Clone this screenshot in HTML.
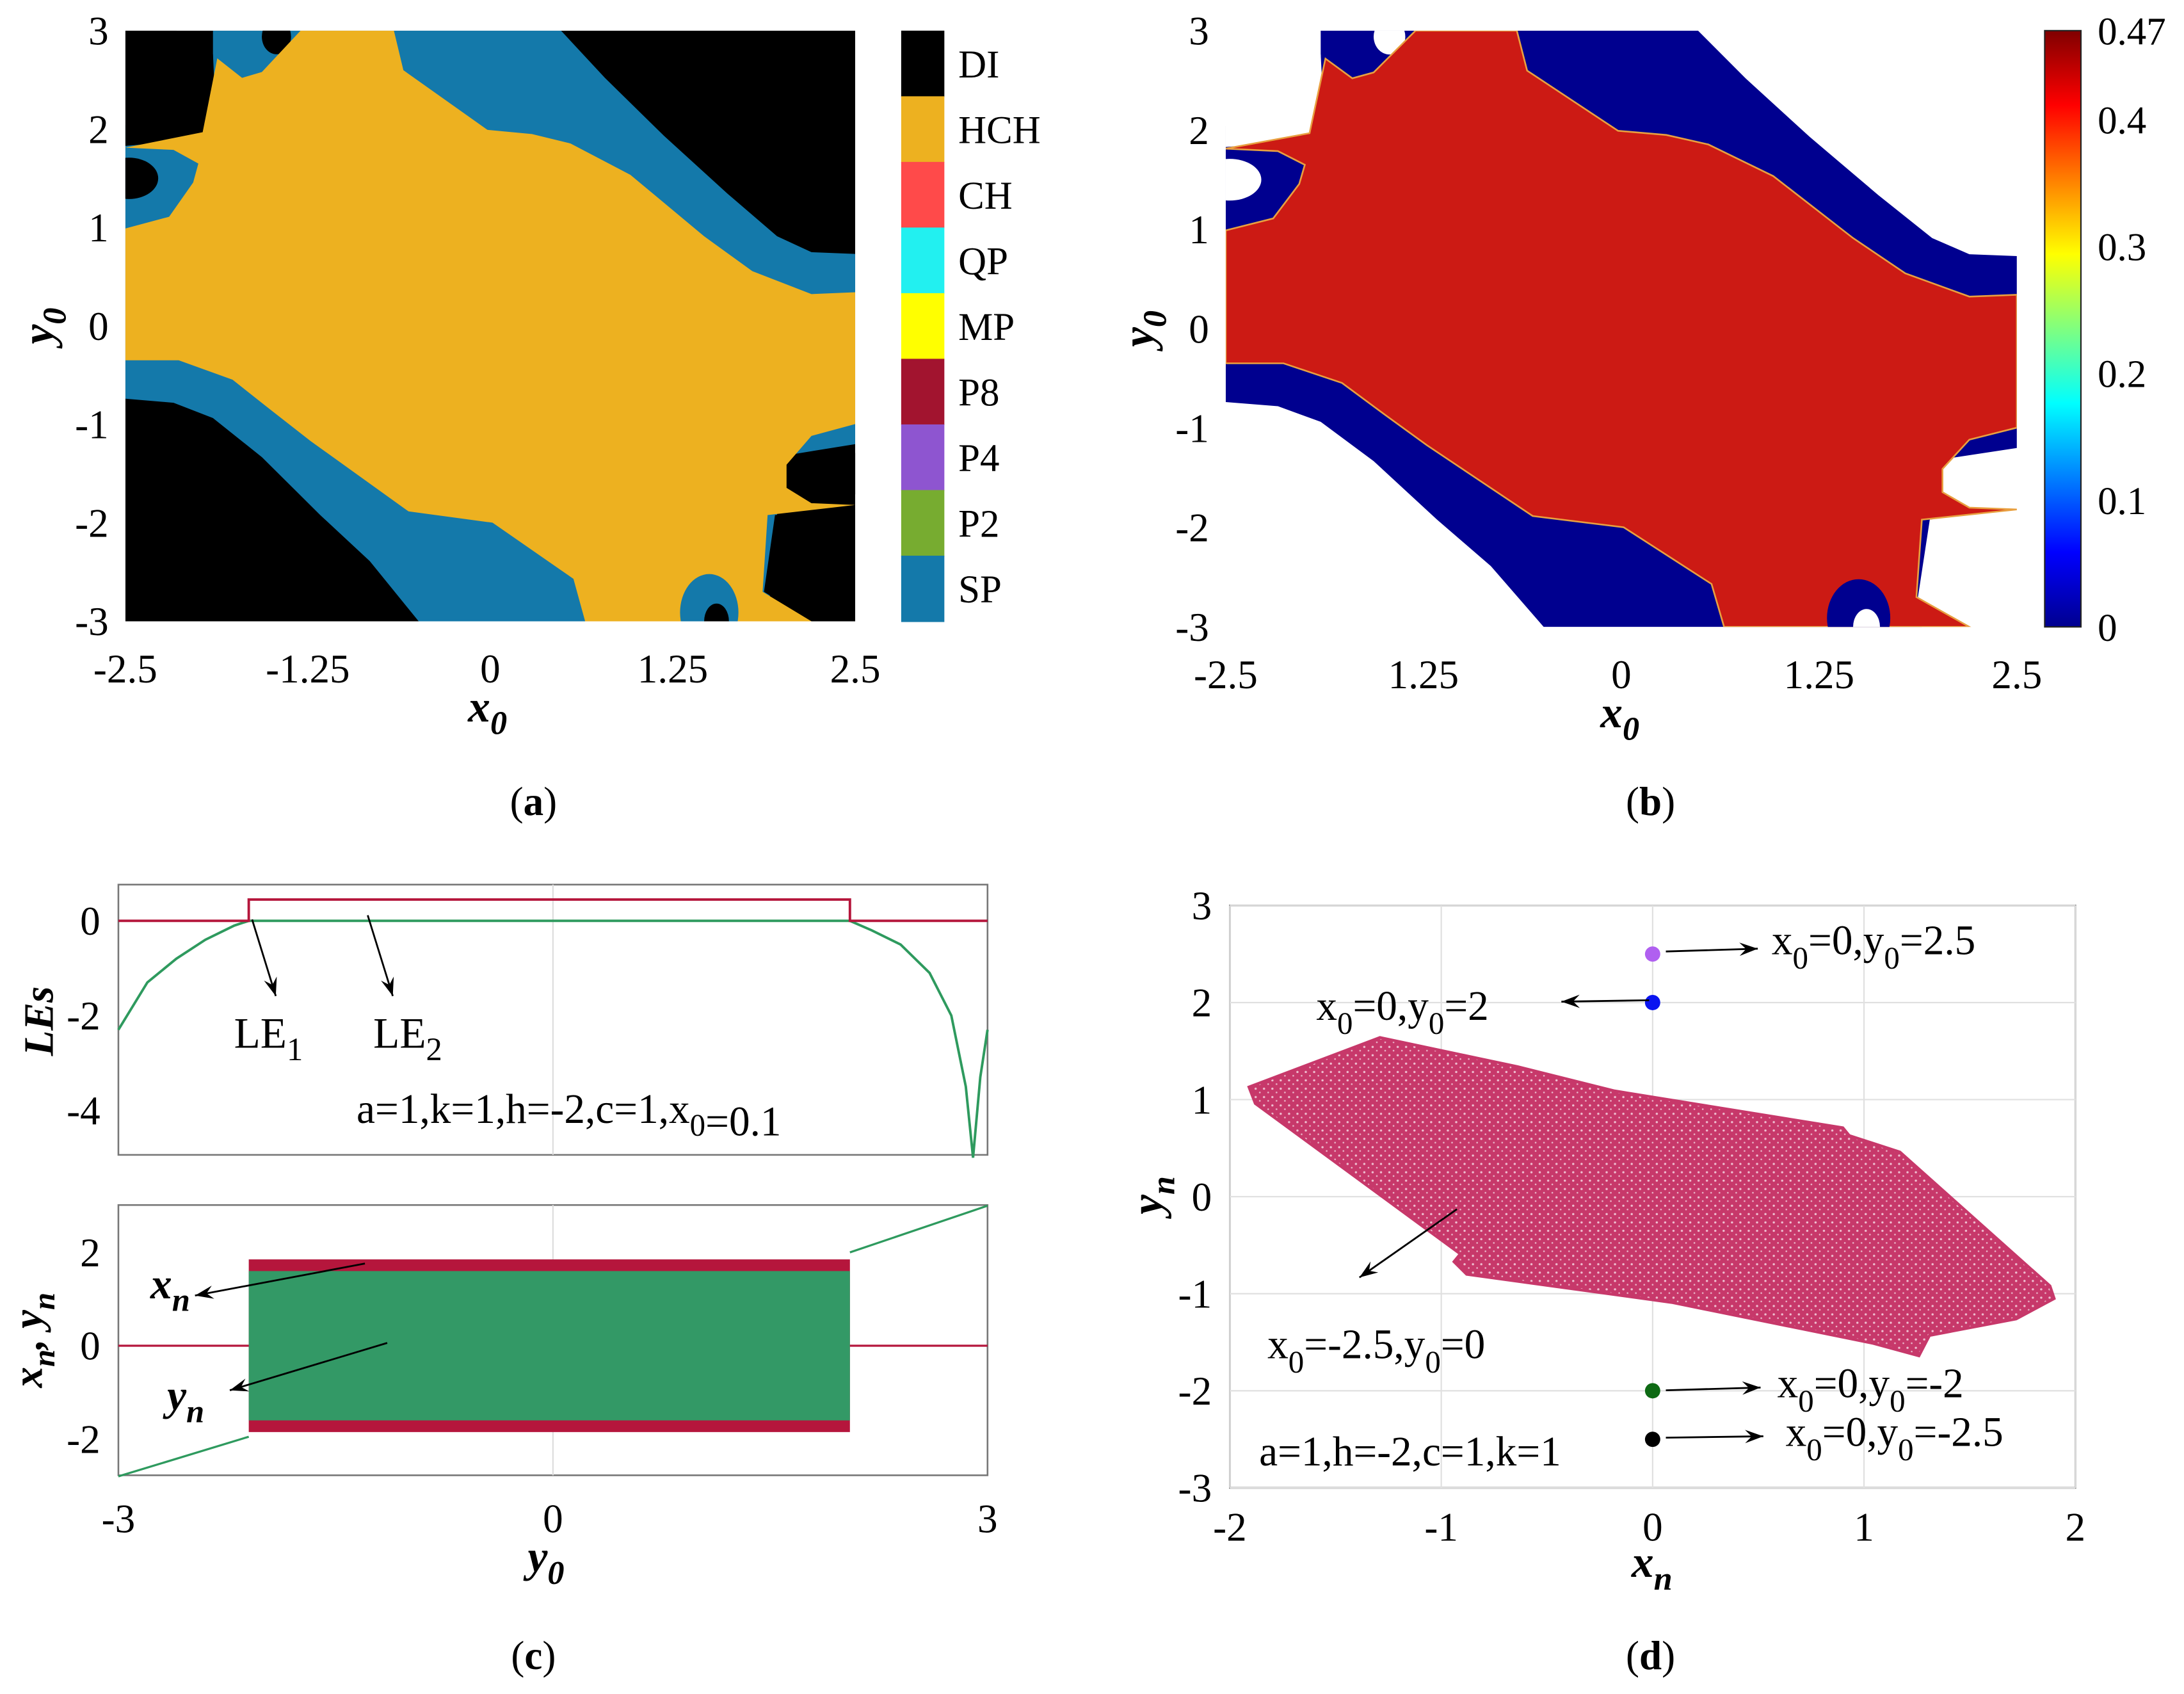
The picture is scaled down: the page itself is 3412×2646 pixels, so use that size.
<!DOCTYPE html>
<html><head><meta charset="utf-8">
<style>
html,body{margin:0;padding:0;background:#fff;}
svg{display:block;font-family:"Liberation Serif",serif;}
</style></head>
<body>
<svg id="fig" xmlns="http://www.w3.org/2000/svg" width="3412" height="2646" viewBox="0 0 1568 1216" preserveAspectRatio="none">
<defs>
<linearGradient id="jet" x1="0" y1="1" x2="0" y2="0">
<stop offset="0" stop-color="#00008f"/><stop offset="0.125" stop-color="#0000ff"/><stop offset="0.375" stop-color="#00ffff"/><stop offset="0.625" stop-color="#ffff00"/><stop offset="0.875" stop-color="#ff0000"/><stop offset="1" stop-color="#800000"/>
</linearGradient>
<pattern id="dots" width="6" height="6" patternUnits="userSpaceOnUse">
<rect width="6" height="6" fill="#c7386a"/><circle cx="1.5" cy="1.5" r="0.8" fill="#eebfd0"/><circle cx="4.5" cy="4.2" r="0.6" fill="#eab8ca"/>
</pattern>
</defs>
<g id="root"></g>
</svg>
<script>
// ---------- data ----------
const legendLabels=["DI","HCH","CH","QP","MP","P8","P4","P2","SP"];
const legendColors=["#000000","#edb120","#ff4a4a","#22f0f0","#ffff00","#a2142f","#8e55d0","#77ac30","#1479aa"];
const xTicksAB=[-2.5,-1.25,0,1.25,2.5];
const xTickLabelsB=["-2.5","1.25","0","1.25","2.5"];
const yTicksAB=[3,2,1,0,-1,-2,-3];
const cbTicks=[0,0.1,0.2,0.3,0.4,0.47];
const les_y0=[-3,-2.8,-2.6,-2.4,-2.2,-2.1,2.05,2.2,2.4,2.6,2.75,2.85,2.9,2.95,3];
const le2_vals=[-2.3,-1.3,-0.8,-0.4,-0.1,0,0,-0.2,-0.5,-1.1,-2.0,-3.5,-5,-3.3,-2.3];
const le1_y0=[-3,-2.1,-2.1,2.05,2.05,3];
const le1_vals=[0,0,0.45,0.45,0,0];
const lesTicks=[0,-2,-4];
const xnTicks=[2,0,-2];
const c_xTicks=[-3,0,3];
const chaosStart=-2.1, chaosEnd=2.05, chaosAmp=1.85;
const attrX=[-1.91,-1.29,-0.64,-0.18,0.9,0.93,1.17,1.88,1.9,1.72,1.31,1.26,1.04,0.09,-0.88,-0.94,-0.91,-1.88];
const attrY=[1.13,1.64,1.34,1.09,0.71,0.63,0.46,-0.92,-1.05,-1.26,-1.43,-1.64,-1.51,-1.09,-0.8,-0.67,-0.59,0.96];
const icY=[2.5,2,-2,-2.5];
const icColors=["#b060f0","#0a14f0","#0e6a14","#000000"];
const dTicksX=[-2,-1,0,1,2];
const dTicksY=[3,2,1,0,-1,-2,-3];
// basin shapes (normalized panel coords)
const blueRegion=[[0.12,0],[0.597,0],[0.657,0.08],[0.738,0.178],[0.825,0.276],[0.893,0.348],[0.94,0.375],[1,0.378],[1,0.70],[0.9,0.72],[0.88,1],[0.402,1],[0.335,0.898],[0.267,0.82],[0.187,0.722],[0.12,0.656],[0.066,0.63],[0,0.623],[0,0.16],[0.12,0.16]];
const yellowRegion=[[0.24,0],[0.368,0],[0.381,0.067],[0.496,0.168],[0.557,0.175],[0.61,0.191],[0.692,0.244],[0.793,0.348],[0.859,0.407],[0.94,0.446],[1,0.443],[1,0.666],[0.94,0.686],[0.906,0.735],[0.906,0.774],[0.94,0.8],[1,0.803],[0.88,0.82],[0.873,0.95],[0.94,1],[0.63,1],[0.614,0.928],[0.503,0.833],[0.388,0.814],[0.254,0.695],[0.2,0.643],[0.147,0.591],[0.073,0.558],[0,0.558],[0,0.335],[0.06,0.315],[0.093,0.257],[0.1,0.225],[0.066,0.202],[0,0.198],[0.106,0.172],[0.126,0.047],[0.16,0.08],[0.187,0.07]];
const blackCorner=[[0,0],[0.07,0],[0.12,0.04],[0.125,0.17],[0.05,0.19],[0,0.195]];
const blackCornerBR=[[0.89,0.82],[1,0.81],[1,1],[0.94,1],[0.875,0.95]];

const NS="http://www.w3.org/2000/svg";
const root=document.getElementById('root');
function el(tag,attrs,parent){const e=document.createElementNS(NS,tag);for(const k in attrs)e.setAttribute(k,attrs[k]);(parent||root).appendChild(e);return e;}
function txt(s,x,y,size,anchor,parent,extra){const t=el('text',Object.assign({x:x,y:y,'font-size':size,'text-anchor':anchor||'middle',fill:'#000'},extra||{}),parent);t.textContent=s;return t;}
function sub(t,main,subs){t.textContent='';for(let i=0;i<main.length;i++){const a=document.createElementNS(NS,'tspan');a.textContent=main[i];t.appendChild(a);if(subs[i]){const b=document.createElementNS(NS,'tspan');b.setAttribute('dy','9');b.setAttribute('font-size','0.75em');b.textContent=subs[i];t.appendChild(b);const c=document.createElementNS(NS,'tspan');c.setAttribute('dy','-9');c.textContent='';t.appendChild(c);}}}

// ---------- basin panels ----------
function basin(g,L,T,W,H,cBg,cBlue,cYel,cHole,stroke){
  const P=pts=>pts.map(p=>(L+p[0]*W).toFixed(1)+','+(T+p[1]*H).toFixed(1)).join(' ');
  const clipId='clip'+L;
  const cp=el('clipPath',{id:clipId},g);
  el('rect',{x:L,y:T,width:W,height:H},cp);
  const gg=el('g',{'clip-path':'url(#'+clipId+')'},g);
  
  
  const bg=el('rect',{x:L,y:T,width:W,height:H,fill:cBg},gg);
  
  
  const b=el('polygon',{points:P(blueRegion),fill:cBlue},gg);
  
  
  for(const s of [blackCorner,blackCornerBR]){const k=el('polygon',{points:P(s),fill:cHole},gg);
    
    }
  for(const h of [[0.005,0.25,0.04,0.035],[0.207,0.01,0.02,0.03],[1,0.75,0.04,0.035]]){
    const e=el('ellipse',{cx:L+h[0]*W,cy:T+h[1]*H,rx:h[2]*W,ry:h[3]*H,fill:cHole},gg);
    
    }
  const y=el('polygon',{points:P(yellowRegion),fill:cYel,stroke:stroke||'none','stroke-width':1.2},gg);
  
  
  const bb=el('ellipse',{cx:L+0.8*W,cy:T+0.985*H,rx:0.04*W,ry:0.065*H,fill:cBlue},gg);
  
  
  const bh=el('ellipse',{cx:L+0.81*W,cy:T+1.0*H,rx:0.017*W,ry:0.03*H,fill:cHole},gg);
  
  
}
function axesAB(g,L,T,W,H,labels,xlabY){
  const fx=v=>L+(v+2.5)/5*W, fy=v=>T+(3-v)/6*H;
  xTicksAB.forEach((v,i)=>{const t=txt(labels[i],fx(v),xlabY,29,'middle',g);
    
    });
  yTicksAB.forEach(v=>{const t=txt(String(v),L-12,fy(v)+10,29,'end',g);
    
    });
}
// panel a
const ga=el('g',{});  
basin(ga,90,22,524,424,'#000','#1479aa','#edb120','#000');
axesAB(ga,90,22,524,424,["-2.5","-1.25","0","1.25","2.5"],490);
legendLabels.forEach((s,i)=>{const h=424/9;const r=el('rect',{x:647,y:22+i*h,width:31,height:h+0.5,fill:legendColors[i]},ga);
  
  
  const t=txt(s,688,22+i*h+h/2+10,28,'start',ga);
  
  });
{const t=txt('x',350,518,32,'middle',ga,{'font-weight':'bold','font-style':'italic'});sub(t,['x'],['0']);}
{const t=el('text',{x:0,y:0,'font-size':32,'font-weight':'bold','font-style':'italic','text-anchor':'middle',transform:'translate(38,234) rotate(-90)'},ga);sub(t,['y'],['0']);}
{const t=txt('(a)',383,585,29,'middle',ga);t.innerHTML='(<tspan font-weight="bold">a</tspan>)';}

// panel b
const gb=el('g',{});  
basin(gb,880,22,568,428,'#fff','#00008f','#cc1a14','#fff','#e8a040');
axesAB(gb,880,22,568,428,xTickLabelsB,494);
{const r=el('rect',{x:1468,y:22,width:26,height:428,fill:'url(#jet)',stroke:'#222','stroke-width':1},gb);}
cbTicks.forEach(v=>{const y=450-v/0.47*428;const t=txt(String(v),1506,y+10,28,'start',gb);
  
  });
{const t=txt('x',1163,522,32,'middle',gb,{'font-weight':'bold','font-style':'italic'});sub(t,['x'],['0']);}
{const t=el('text',{x:0,y:0,'font-size':32,'font-weight':'bold','font-style':'italic','text-anchor':'middle',transform:'translate(828,236) rotate(-90)'},gb);sub(t,['y'],['0']);}
{const t=txt('',1185,585,29,'middle',gb);t.innerHTML='(<tspan font-weight="bold">b</tspan>)';}

// ---------- panel c ----------
const gc=el('g',{});  
const cx=v=>85+(v+3)/6*624;
const cyT=v=>661-v*34;
const cyB=v=>966-v*33.5;
{const r=el('rect',{x:85,y:635,width:624,height:194,fill:'#fff',stroke:'#777','stroke-width':1.2},gc);}
{const l=el('line',{x1:cx(0),y1:635,x2:cx(0),y2:829,stroke:'#ddd','stroke-width':1},gc);}
{const l=el('line',{x1:85,y1:cyT(0),x2:709,y2:cyT(0),stroke:'#333','stroke-width':1.2,'stroke-dasharray':'3,3'},gc);}
{const p=el('polyline',{points:les_y0.map((v,i)=>cx(v)+','+cyT(le2_vals[i])).join(' '),fill:'none',stroke:'#2e9a5e','stroke-width':1.8},gc);}
{const p=el('polyline',{points:le1_y0.map((v,i)=>cx(v)+','+cyT(le1_vals[i])).join(' '),fill:'none',stroke:'#b5163c','stroke-width':1.8},gc);}
lesTicks.forEach(v=>{const t=txt(String(v),72,cyT(v)+10,29,'end',gc);});
{const t=el('text',{x:0,y:0,'font-size':30,'font-weight':'bold','font-style':'italic','text-anchor':'middle',transform:'translate(38,733) rotate(-90)'},gc);t.textContent='LEs';}
function arrow(g,x1,y1,x2,y2,name){const l=el('line',{x1:x1,y1:y1,x2:x2,y2:y2,stroke:'#000','stroke-width':1.3},g);
  const a=Math.atan2(y2-y1,x2-x1),s=14;const p=el('polygon',{points:`${x2},${y2} ${x2-s*Math.cos(a-0.35)},${y2-s*Math.sin(a-0.35)} ${x2-s*0.6*Math.cos(a)},${y2-s*0.6*Math.sin(a)} ${x2-s*Math.cos(a+0.35)},${y2-s*Math.sin(a+0.35)}`,fill:'#000'},g);}
arrow(gc,181,660,198,715,'le1-arrow');
arrow(gc,264,657,282,715,'le2-arrow');
{const t=txt('',168,752,31,'start',gc);sub(t,['LE'],['1']);}
{const t=txt('',268,752,31,'start',gc);sub(t,['LE'],['2']);}
{const t=txt('',256,806,30,'start',gc);sub(t,['a=1,k=1,h=-2,c=1,x','=0.1'],['0','']);}
// bottom
{const r=el('rect',{x:85,y:865,width:624,height:194,fill:'#fff',stroke:'#777','stroke-width':1.2},gc);}
{const l=el('line',{x1:cx(0),y1:865,x2:cx(0),y2:1059,stroke:'#ddd','stroke-width':1},gc);}
{const r=el('rect',{x:cx(chaosStart),y:cyB(chaosAmp),width:cx(chaosEnd)-cx(chaosStart),height:cyB(-chaosAmp)-cyB(chaosAmp),fill:'#b5163c'},gc);}
{const r=el('rect',{x:cx(chaosStart),y:cyB(chaosAmp-0.25),width:cx(chaosEnd)-cx(chaosStart),height:cyB(-chaosAmp+0.25)-cyB(chaosAmp-0.25),fill:'#339966'},gc);}
{const l=el('polyline',{points:`85,${cyB(0)} ${cx(chaosStart)},${cyB(0)}`,stroke:'#b5163c','stroke-width':1.5,fill:'none'},gc);}
{const l=el('polyline',{points:`${cx(chaosEnd)},${cyB(0)} 709,${cyB(0)}`,stroke:'#b5163c','stroke-width':1.5,fill:'none'},gc);}
{const l=el('line',{x1:cx(-3),y1:cyB(-2.8),x2:cx(chaosStart),y2:cyB(-1.95),stroke:'#2e9a5e','stroke-width':1.5},gc);}
{const l=el('line',{x1:cx(chaosEnd),y1:cyB(2.0),x2:cx(3),y2:cyB(3.0),stroke:'#2e9a5e','stroke-width':1.5},gc);}
xnTicks.forEach(v=>{const t=txt(String(v),72,cyB(v)+10,29,'end',gc);});
c_xTicks.forEach(v=>{const t=txt(String(v),cx(v),1100,29,'middle',gc);});
arrow(gc,262,907,140,930,'xn-arrow');
arrow(gc,278,964,165,998,'yn-arrow');
{const t=txt('',108,932,31,'start',gc,{'font-weight':'bold','font-style':'italic'});sub(t,['x'],['n']);}
{const t=txt('',120,1012,31,'start',gc,{'font-weight':'bold','font-style':'italic'});sub(t,['y'],['n']);}
{const t=el('text',{x:0,y:0,'font-size':30,'font-weight':'bold','font-style':'italic','text-anchor':'middle',transform:'translate(30,962) rotate(-90)'},gc);t.innerHTML='x<tspan dy="9" font-size="0.75em">n</tspan><tspan dy="-9">, y</tspan><tspan dy="9" font-size="0.75em">n</tspan>';}
{const t=txt('',392,1128,32,'middle',gc,{'font-weight':'bold','font-style':'italic'});sub(t,['y'],['0']);}
{const t=txt('',383,1198,29,'middle',gc);t.innerHTML='(<tspan font-weight="bold">c</tspan>)';}

// ---------- panel d ----------
const gd=el('g',{});  
const dx=v=>883+(v+2)/4*607, dy=v=>650+(3-v)/6*418;
{const r=el('rect',{x:883,y:650,width:607,height:418,fill:'#fff',stroke:'#666','stroke-width':1.2},gd);}
dTicksX.forEach(v=>{const l=el('line',{x1:dx(v),y1:650,x2:dx(v),y2:1068,stroke:'#e0e0e0','stroke-width':1},gd);
  const t=txt(String(v),dx(v),1106,29,'middle',gd);});
dTicksY.forEach(v=>{const l=el('line',{x1:883,y1:dy(v),x2:1490,y2:dy(v),stroke:'#e0e0e0','stroke-width':1},gd);
  const t=txt(String(v),870,dy(v)+10,29,'end',gd);});
{const p=el('polygon',{points:attrX.map((v,i)=>dx(v)+','+dy(attrY[i])).join(' '),fill:'url(#dots)',stroke:'#c7386a','stroke-width':2},gd);}
icY.forEach((v,i)=>{const c=el('circle',{cx:dx(0),cy:dy(v),r:5.5,fill:icColors[i]},gd);});
arrow(gd,1196,683,1262,681,'arrow-y2.5');
arrow(gd,1184,718,1121,719,'arrow-y2');
arrow(gd,1046,868,976,917,'arrow-attractor');
arrow(gd,1196,998,1264,996,'arrow-y-2');
arrow(gd,1196,1032,1266,1031,'arrow-y-2.5');
function lbl(x,y,parts,name){const t=el('text',{x:x,y:y,'font-size':30,'text-anchor':'start'},gd);t.innerHTML=parts;}
const S=s=>`<tspan dy="10" font-size="0.75em">${s}</tspan><tspan dy="-10">`;
lbl(1272,685,`x${S('0')}=0,y</tspan>${S('0')}=2.5</tspan>`,'label-y2.5');
lbl(945,732,`x${S('0')}=0,y</tspan>${S('0')}=2</tspan>`,'label-y2');
lbl(910,975,`x${S('0')}=-2.5,y</tspan>${S('0')}=0</tspan>`,'label-attractor');
lbl(1276,1003,`x${S('0')}=0,y</tspan>${S('0')}=-2</tspan>`,'label-y-2');
lbl(1282,1038,`x${S('0')}=0,y</tspan>${S('0')}=-2.5</tspan>`,'label-y-2.5');
lbl(904,1052,'a=1,h=-2,c=1,k=1','parameter-annotation');
{const t=txt('',1186,1132,32,'middle',gd,{'font-weight':'bold','font-style':'italic'});sub(t,['x'],['n']);}
{const t=el('text',{x:0,y:0,'font-size':32,'font-weight':'bold','font-style':'italic','text-anchor':'middle',transform:'translate(834,858) rotate(-90)'},gd);sub(t,['y'],['n']);}
{const t=txt('',1185,1198,29,'middle',gd);t.innerHTML='(<tspan font-weight="bold">d</tspan>)';}
</script>
</body></html>
